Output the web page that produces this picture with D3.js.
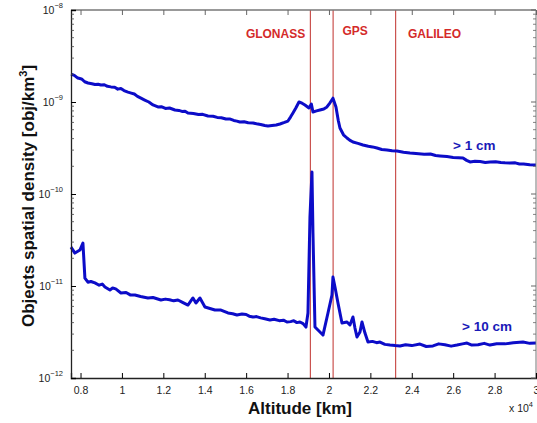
<!DOCTYPE html>
<html><head><meta charset="utf-8">
<script src="https://cdn.jsdelivr.net/npm/d3@7"></script>
<style>body{margin:0;background:#fff}svg{display:block}text{font-family:"Liberation Sans",Arial,sans-serif}</style>
</head><body><svg id="c" width="537" height="423"></svg>
<script>
// >1 cm series: [altitude km, density obj/km^3]
const series1cm = [[7540,2.01e-9],[7700,1.95e-9],[7870,1.82e-9],[8050,1.78e-9],[8200,1.66e-9],[8360,1.61e-9],[8550,1.58e-9],[8700,1.55e-9],[8850,1.56e-9],[8985,1.53e-9],[9150,1.54e-9],[9300,1.48e-9],[9469,1.46e-9],[9650,1.45e-9],[9800,1.38e-9],[9950,1.40e-9],[10100,1.33e-9],[10290,1.28e-9],[10450,1.25e-9],[10600,1.22e-9],[10750,1.15e-9],[10918,1.10e-9],[11100,1.05e-9],[11300,1.0e-9],[11500,9.3e-10],[11739,8.83e-10],[11900,8.9e-10],[12100,8.5e-10],[12300,8.6e-10],[12560,8.19e-10],[12750,8.1e-10],[12900,7.9e-10],[13050,7.95e-10],[13188,7.59e-10],[13450,7.5e-10],[13700,7.3e-10],[13900,7.35e-10],[14155,7.04e-10],[14400,7.0e-10],[14600,6.8e-10],[14800,6.75e-10],[15024,6.53e-10],[15200,6.55e-10],[15400,6.3e-10],[15550,6.2e-10],[15700,6.06e-10],[15900,6.1e-10],[16100,5.95e-10],[16329,5.91e-10],[16500,5.8e-10],[16700,5.7e-10],[16900,5.55e-10],[17053,5.49e-10],[17250,5.55e-10],[17450,5.62e-10],[17633,5.77e-10],[17850,6.0e-10],[18019,6.21e-10],[18150,6.9e-10],[18261,7.59e-10],[18400,8.6e-10],[18551,1.0e-9],[18700,9.7e-10],[18841,9.27e-10],[19034,8.61e-10],[19150,9.51e-10],[19227,7.78e-10],[19400,8.0e-10],[19565,8.19e-10],[19750,8.4e-10],[19903,8.83e-10],[20050,9.8e-10],[20193,1.10e-9],[20338,8.83e-10],[20450,6.3e-10],[20531,5.21e-10],[20700,4.4e-10],[20870,4.06e-10],[21000,3.85e-10],[21159,3.67e-10],[21400,3.55e-10],[21643,3.41e-10],[21900,3.3e-10],[22100,3.25e-10],[22319,3.16e-10],[22550,3.05e-10],[22802,3.01e-10],[23050,2.95e-10],[23285,2.93e-10],[23600,2.85e-10],[23913,2.79e-10],[24200,2.75e-10],[24600,2.7e-10],[24900,2.72e-10],[25150,2.62e-10],[25362,2.59e-10],[25700,2.55e-10],[26000,2.5e-10],[26250,2.48e-10],[26473,2.46e-10],[26650,2.32e-10],[26812,2.23e-10],[27050,2.27e-10],[27300,2.25e-10],[27550,2.2e-10],[27778,2.23e-10],[28050,2.24e-10],[28300,2.2e-10],[28500,2.18e-10],[28744,2.17e-10],[29000,2.18e-10],[29200,2.12e-10],[29400,2.12e-10],[29700,2.08e-10],[30000,2.07e-10]];
// >10 cm series
const series10cm = [[7540,2.65e-11],[7729,2.28e-11],[7971,2.46e-11],[8116,2.93e-11],[8212,1.22e-11],[8357,1.10e-11],[8500,1.12e-11],[8696,1.08e-11],[8900,1.02e-11],[9050,1.05e-11],[9179,9.75e-12],[9420,9.05e-12],[9550,9.5e-12],[9700,9.3e-12],[9952,8.40e-12],[10200,8.5e-12],[10400,8.0e-12],[10628,7.98e-12],[10900,7.7e-12],[11256,7.41e-12],[11500,7.5e-12],[11884,7.05e-12],[12100,7.2e-12],[12300,7.1e-12],[12500,6.9e-12],[12705,7.05e-12],[12950,6.6e-12],[13188,6.21e-12],[13430,7.41e-12],[13575,6.53e-12],[13768,7.41e-12],[14010,5.91e-12],[14250,5.7e-12],[14493,5.48e-12],[14783,5.48e-12],[15121,5.09e-12],[15350,5.0e-12],[15556,4.84e-12],[15800,4.95e-12],[16000,4.9e-12],[16150,4.7e-12],[16329,4.60e-12],[16500,4.65e-12],[16700,4.5e-12],[16900,4.4e-12],[17150,4.27e-12],[17350,4.35e-12],[17600,4.2e-12],[17800,4.25e-12],[17971,4.06e-12],[18150,4.1e-12],[18300,4.2e-12],[18450,4.0e-12],[18599,4.06e-12],[18750,3.9e-12],[18889,3.58e-12],[18986,5.09e-12],[19082,5.62e-11],[19179,1.73e-10],[19227,3.77e-11],[19324,3.58e-12],[19565,3.16e-12],[19710,2.93e-12],[19952,5.09e-12],[20145,7.98e-12],[20193,1.25e-11],[20290,9.75e-12],[20435,6.53e-12],[20628,3.96e-12],[20870,4.06e-12],[21014,3.77e-12],[21159,4.60e-12],[21256,3.49e-12],[21353,2.79e-12],[21498,3.16e-12],[21594,4.06e-12],[21739,3.08e-12],[21884,2.46e-12],[22100,2.5e-12],[22300,2.42e-12],[22464,2.46e-12],[22700,2.32e-12],[22947,2.28e-12],[23200,2.25e-12],[23430,2.23e-12],[23700,2.3e-12],[24000,2.25e-12],[24396,2.34e-12],[24700,2.2e-12],[25024,2.23e-12],[25300,2.35e-12],[25600,2.3e-12],[25900,2.22e-12],[26184,2.28e-12],[26450,2.35e-12],[26667,2.40e-12],[26900,2.28e-12],[27200,2.3e-12],[27500,2.38e-12],[27778,2.28e-12],[28100,2.36e-12],[28500,2.35e-12],[28900,2.42e-12],[29372,2.46e-12],[29700,2.38e-12],[30000,2.40e-12]];
const constellations = ["GLONASS","GPS","GALILEO"];
const constAlt = [19100,20200,23222];
const constLabelAlt = [17420,21260,25100];
const xTicks = [8000,10000,12000,14000,16000,18000,20000,22000,24000,26000,28000,30000];
const xTickLabels = ["0.8","1","1.2","1.4","1.6","1.8","2","2.2","2.4","2.6","2.8","3"];
const yExps = [-12,-11,-10,-9,-8];
const seriesLabels = ["> 1 cm","> 10 cm"];

const svg = d3.select("#c");
const L=71, R=536, T=10, B=378;
const x = d3.scaleLinear().domain([7540,30000]).range([L,R]);
const y = d3.scaleLog().domain([1e-12,1e-8]).range([B,T]);

// constellation lines
const red="#c0302c";
constellations.forEach((c,i)=>{
  svg.append("line").attr("x1",x(constAlt[i])).attr("x2",x(constAlt[i])).attr("y1",T).attr("y2",B)
    .attr("stroke",red).attr("stroke-width",1);
});
const labY=[38,35,38];
constellations.forEach((c,i)=>{
  svg.append("text").attr("x",x(constLabelAlt[i])).attr("y",labY[i]).attr("text-anchor","middle")
    .attr("font-size",12).attr("font-weight","bold").attr("fill","#d42a2a").text(c);
});

// curves
const line = d3.line().x(d=>x(d[0])).y(d=>y(d[1]));
const blue="#0c0cc8";
[series1cm,series10cm].forEach(s=>{
  svg.append("path").datum(s).attr("d",line).attr("fill","none")
    .attr("stroke",blue).attr("stroke-width",3).attr("stroke-linejoin","round");
});

// axes box
svg.append("line").attr("x1",L).attr("x2",R).attr("y1",T).attr("y2",T).attr("stroke","#777").attr("stroke-width",1.3);
svg.append("line").attr("x1",R).attr("x2",R).attr("y1",T).attr("y2",B).attr("stroke","#777").attr("stroke-width",1);

const gx = svg.append("g").attr("transform",`translate(0,${B})`)
  .call(d3.axisBottom(x).tickValues(xTicks).tickSize(-5).tickPadding(9).tickFormat((d,i)=>xTickLabels[i]));
const gxt = svg.append("g").attr("transform",`translate(0,${T})`)
  .call(d3.axisTop(x).tickValues(xTicks).tickSize(-5).tickFormat(""));
gxt.select(".domain").remove();
gxt.selectAll("line").attr("stroke","#666");
gx.select(".domain").attr("stroke","#222").attr("stroke-width",1.3);
gx.selectAll("text").attr("font-size",10.5).attr("fill","#222");

// y axis
const gy = svg.append("g").attr("transform",`translate(${L},0)`)
  .call(d3.axisLeft(y).tickValues(yExps.map(e=>Math.pow(10,e))).tickSize(-5).tickFormat(""));
gy.select(".domain").attr("stroke","#222").attr("stroke-width",1.3);
const minor=[];
for(let e=-12;e<-8;e++) for(let k=2;k<10;k++) minor.push(k*Math.pow(10,e));
minor.forEach(v=>{
  svg.append("line").attr("x1",L).attr("x2",L+3).attr("y1",y(v)).attr("y2",y(v)).attr("stroke","#444").attr("stroke-width",0.8);
  svg.append("line").attr("x1",R).attr("x2",R-3).attr("y1",y(v)).attr("y2",y(v)).attr("stroke","#666").attr("stroke-width",0.8);
});
yExps.forEach(e=>{
  svg.append("line").attr("x1",R).attr("x2",R-5).attr("y1",y(Math.pow(10,e))).attr("y2",y(Math.pow(10,e))).attr("stroke","#666");
  const t = svg.append("text").attr("x",L-8).attr("y",y(Math.pow(10,e))+4).attr("text-anchor","end").attr("fill","#222").attr("font-size",10.5);
  t.append("tspan").text("10");
  t.append("tspan").attr("dy",-6).attr("font-size",7.5).text("\u2212"+(-e));
});

// multiplier
const m = svg.append("text").attr("x",509).attr("y",412).attr("font-size",10.5).attr("fill","#222");
m.append("tspan").text("x 10");
m.append("tspan").attr("dy",-5).attr("font-size",7.5).text("4");

// axis titles
svg.append("text").attr("x",300).attr("y",414).attr("text-anchor","middle").attr("font-size",17)
  .attr("font-weight","bold").attr("fill","#111").text("Altitude [km]");
const yl = svg.append("text").attr("transform","translate(34,196) rotate(-90)").attr("text-anchor","middle")
  .attr("font-size",17).attr("font-weight","bold").attr("fill","#111");
yl.append("tspan").text("Objects spatial density [obj/km");
yl.append("tspan").attr("dy",-7).attr("font-size",11).text("3");
yl.append("tspan").attr("dy",7).text("]");

// series labels
svg.append("text").attr("x",453).attr("y",150).attr("font-size",13.5).attr("font-weight","bold").attr("fill","#1a1ab8").text(seriesLabels[0]);
svg.append("text").attr("x",462).attr("y",331).attr("font-size",13.5).attr("font-weight","bold").attr("fill","#1a1ab8").text(seriesLabels[1]);
</script></body></html>
